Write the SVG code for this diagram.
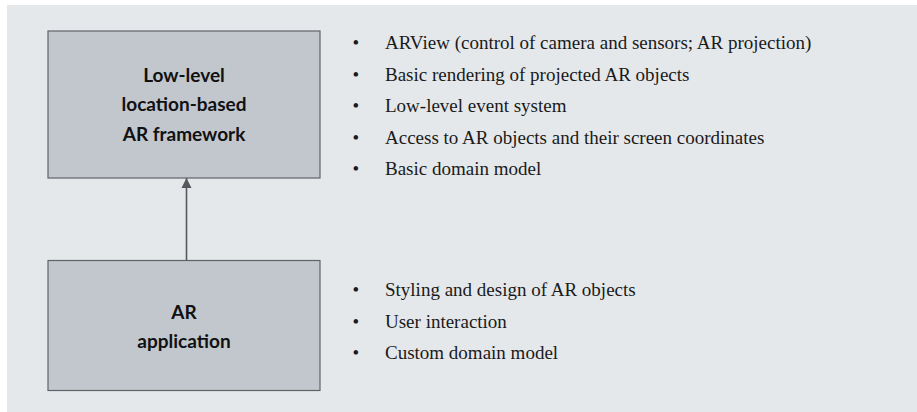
<svg xmlns="http://www.w3.org/2000/svg" width="917" height="412" viewBox="0 0 917 412">
<style>
.box{fill:#c2c7ce;stroke:#5f6368;stroke-width:1.2}
.lbl{font-family:Lato,"Noto Sans","Liberation Sans",sans-serif;font-weight:bold;font-size:19px;fill:#111;text-anchor:middle}
.item{font-family:"Liberation Serif","DejaVu Serif",serif;font-size:19px;fill:#1a1a1a}
.bul{font-family:"Liberation Serif","DejaVu Serif",serif;font-size:19px;fill:#1a1a1a}
.conn{stroke:#55595e;stroke-width:1.6;fill:none}
</style>
<defs>
<marker id="ah" viewBox="0 0 10 12" refX="10" refY="6" markerWidth="10" markerHeight="12" markerUnits="userSpaceOnUse" orient="auto">
<path d="M0,1 L10,6 L0,11 Z" fill="#55595e"/>
</marker>
</defs>
<rect x="0" y="0" width="917" height="412" fill="#ffffff"/>
<rect x="7" y="5" width="910" height="407" fill="#e5e8eb"/>
<g id="connectors">
<line class="conn" x1="186.5" y1="260.5" x2="186.5" y2="178" marker-end="url(#ah)"/>
</g>
<g id="framework">
<rect class="box" x="48" y="31" width="272" height="147"/>
<text class="lbl" x="184" y="82">Low-level</text>
<text class="lbl" x="184" y="111">location-based</text>
<text class="lbl" x="184" y="141">AR framework</text>
</g>
<g id="application">
<rect class="box" x="48" y="260.5" width="272" height="130"/>
<text class="lbl" x="184" y="319">AR</text>
<text class="lbl" x="184" y="348">application</text>
</g>
<g id="framework-features">
<text class="bul" x="352.5" y="49">•</text><text class="item" x="385" y="49">ARView (control of camera and sensors; AR projection)</text>
<text class="bul" x="352.5" y="80.5">•</text><text class="item" x="385" y="80.5">Basic rendering of projected AR objects</text>
<text class="bul" x="352.5" y="112">•</text><text class="item" x="385" y="112">Low-level event system</text>
<text class="bul" x="352.5" y="143.5">•</text><text class="item" x="385" y="143.5">Access to AR objects and their screen coordinates</text>
<text class="bul" x="352.5" y="175">•</text><text class="item" x="385" y="175">Basic domain model</text>
</g>
<g id="application-features">
<text class="bul" x="352.5" y="296">•</text><text class="item" x="385" y="296">Styling and design of AR objects</text>
<text class="bul" x="352.5" y="327.5">•</text><text class="item" x="385" y="327.5">User interaction</text>
<text class="bul" x="352.5" y="359">•</text><text class="item" x="385" y="359">Custom domain model</text>
</g>
</svg>
